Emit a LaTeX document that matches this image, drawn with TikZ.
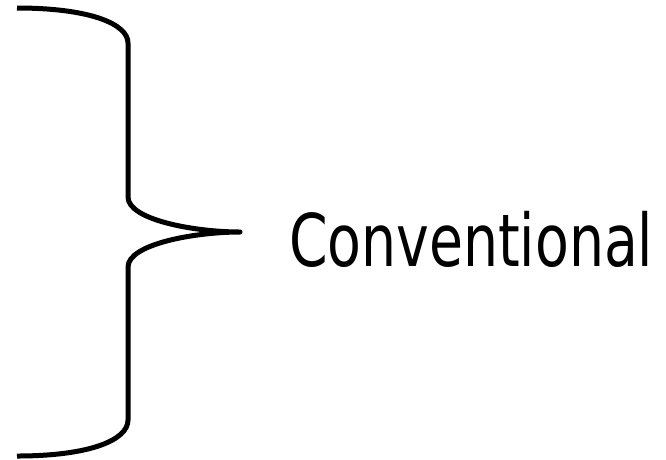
\documentclass[tikz,border=0pt]{standalone}
\usepackage{fontspec}
\newfontfamily\labelfont{DejaVu Sans Condensed}
\begin{document}
\begin{tikzpicture}[x=1pt,y=-1pt,
  bracestyle/.style={line width=5pt, line join=round, draw=black},
  labelstyle/.style={inner sep=0pt, anchor=base west, xscale=0.845, font=\labelfont\fontsize{72.7}{80}\selectfont}]
\useasboundingbox (0,0) rectangle (666,459);
\draw[bracestyle] (17,8) .. controls (90,8) and (128,24) .. (128,43)
  -- (128,197) .. controls (128,220) and (195,232) .. (240,232)
  .. controls (195,232) and (128,244) .. (128,267)
  -- (128,420) .. controls (128,440) and (90,456) .. (17,456);
\node[labelstyle] (label) at (289,266) {Conventional};
\end{tikzpicture}
\end{document}
